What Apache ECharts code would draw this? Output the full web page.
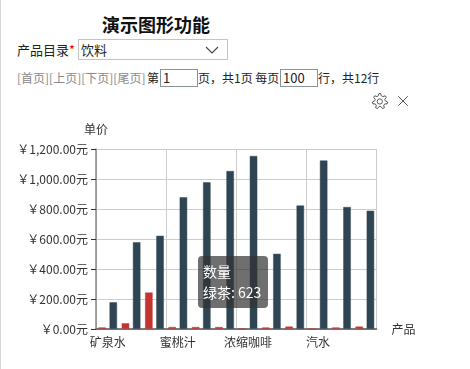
<!DOCTYPE html>
<html><head><meta charset="utf-8">
<script src="https://cdn.jsdelivr.net/npm/echarts@6/dist/echarts.min.js"></script>
<style>
html,body{margin:0;padding:0;background:#fff;overflow:hidden}
body{width:470px;height:369px;position:relative;font-family:"Noto Sans CJK SC","Noto Sans",sans-serif;color:#222;font-size:13px}
#edge{position:absolute;left:0;top:0;width:1px;height:369px;background:#d8d6d0}
.t{position:absolute;white-space:nowrap;line-height:20px}
.s{font-size:12px}
#title{left:102px;top:12px;font-size:18px;font-weight:700;color:#111;line-height:24px}
#sel{position:absolute;left:78px;top:39px;width:150px;height:21px;box-sizing:border-box;border:1px solid #c4c4c4;background:#fff;font:13px/19px "Noto Sans CJK SC",sans-serif;padding-left:2px;color:#222}
#sel svg{position:absolute;right:8px;top:6px}
.inp{position:absolute;height:18px;width:38px;box-sizing:border-box;border:1px solid #8a9494;font:13px/16px "Noto Sans CJK SC",sans-serif;padding-left:2px;color:#222}
#chart{position:absolute;left:0;top:70px;width:470px;height:299px}
</style></head><body>
<div id="edge"></div>
<div class="t" id="title">演示图形功能</div>
<div class="t" style="left:17px;top:40px">产品目录<span style="color:#e00">*</span></div>
<div id="sel">饮料<svg width="14" height="8"><path d="M1 1L7 7L13 1" fill="none" stroke="#444" stroke-width="1.1"/></svg></div>
<div class="t s" style="left:17px;top:68px;color:#888">[首页][上页][下页][尾页]</div>
<div class="t s" style="left:147px;top:68px">第</div>
<div class="inp" style="left:160px;top:69px">1</div>
<div class="t s" style="left:198px;top:68px">页，共1页 每页</div>
<div class="inp" style="left:280px;top:69px">100</div>
<div class="t s" style="left:318px;top:68px">行，共12行</div>
<div id="chart"></div>
<script>
const categories = ['矿泉水','苹果汁','绿茶','蜜桃汁','牛奶','柠檬汁','浓缩咖啡','啤酒','蔬菜汁','汽水','运动饮料','苏打水'];
const priceValues = [12,40,245,15,15,15,3,12,18,3,12,18];
const quantityValues = [180,580,623,880,980,1055,1155,503,825,1125,815,790];
const yMax = 1200, yStep = 200;
const chart = echarts.init(document.getElementById('chart'));
const textColor = '#333';
const fontFamily = '"Noto Sans CJK SC","Noto Sans",sans-serif';
const gearPath = 'path://M10 1L12 1L13 4L15 5L18 4L19.5 6L17.5 8.5L18 10.5L21 12L20.5 14.5L17.5 14.5L16 16.5L17 19.5L14.5 20.5L12.5 18L10 18L8 20.5L5.5 19.5L6.5 16.5L5 14.5L2 14.5L1.5 12L4.5 10.5L5 8.5L3 6L4.5 4L7.5 5L9 4Z M11 8A3.4 3.4 0 1 0 11.01 8Z';
const closePath = 'path://M0 0L0 0M22 22L22 22M4 4L18 18M18 4L4 18';
chart.setOption({
  animation:false,
  textStyle:{fontFamily},
  color:['#c23531','#2f4554'],
  grid:{left:96,right:93.5,top:79,bottom:40,containLabel:false},
  toolbox:{right:42,top:6,itemSize:15,itemGap:3,
    iconStyle:{borderColor:'#555',color:'none',borderWidth:1},
    feature:{myConfig:{show:true,title:'设置',icon:gearPath,onclick(){}},myClose:{show:true,title:'关闭',icon:closePath,onclick(){}}}},
  tooltip:{trigger:'item',alwaysShowContent:true,transitionDuration:0,showDelay:0,
    backgroundColor:'rgba(50,50,50,0.7)',borderWidth:0,borderRadius:4,padding:[5,5],
    textStyle:{color:'#fff',fontSize:14,fontFamily},
    extraCssText:'box-shadow:none;width:60px;height:42px;line-height:21px;padding:5px;',
    position:[198,186],
    formatter:p=>p.seriesName+'<br/>'+p.name+': '+p.value},
  xAxis:{type:'category',data:categories,name:'产品',nameGap:15,
    nameTextStyle:{color:textColor,fontSize:12},
    axisLine:{lineStyle:{color:'#555',width:1.5}},
    axisTick:{interval:2,length:5,lineStyle:{color:'#333'}},
    axisLabel:{interval:2,color:textColor,fontSize:12,margin:7},
    splitLine:{show:true,interval:2,lineStyle:{color:'#ccc'}}},
  yAxis:{type:'value',name:'单价',min:0,max:yMax,interval:yStep,
    nameTextStyle:{color:textColor,fontSize:12},nameGap:14,
    axisLine:{show:true,lineStyle:{color:'#888',width:1.5}},
    axisTick:{show:true,length:5,lineStyle:{color:'#333'}},
    axisLabel:{color:textColor,fontSize:12,margin:8,
      formatter:v=>'\uFFE5'+v.toLocaleString('en-US',{minimumFractionDigits:2,maximumFractionDigits:2})+'元'},
    splitLine:{show:true,lineStyle:{color:'#ccc'}}},
  series:[
    {name:'单价',type:'bar',data:priceValues,barWidth:8,barGap:'40%',itemStyle:{borderColor:'rgba(194,53,49,0.45)',borderWidth:1}},
    {name:'数量',type:'bar',data:quantityValues,barWidth:8,itemStyle:{borderColor:'rgba(47,69,84,0.45)',borderWidth:1}}
  ]
});
chart.dispatchAction({type:'showTip',seriesIndex:1,dataIndex:2});
</script>
</body></html>
